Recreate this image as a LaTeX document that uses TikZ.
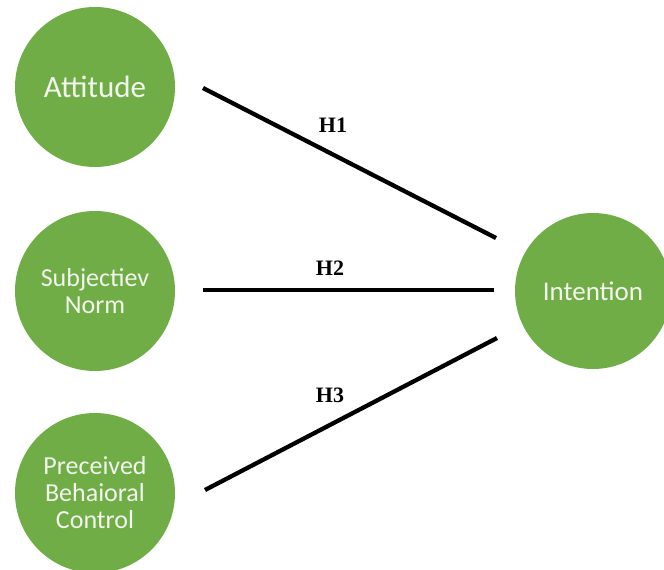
\documentclass[tikz,border=0pt]{standalone}
\usepackage{fontspec}
\setmainfont{Liberation Serif}
\newfontfamily\circfont{Carlito}
\definecolor{ogreen}{HTML}{70AD47}
\definecolor{softwhite}{HTML}{F2F6EE}
\begin{document}
\begin{tikzpicture}[x=1pt,y=-1pt,
  bubble/.style={circle,fill=ogreen,draw=none,inner sep=0pt,minimum size=160pt,
    text=softwhite,align=center,font=\circfont\fontsize{26}{27}\selectfont},
  link/.style={line width=4.3pt},
  hlabel/.style={font=\bfseries\fontsize{22}{24}\selectfont,text=black,inner sep=0pt}]
\useasboundingbox (0,0) rectangle (664,570);
\node[bubble,font=\circfont\fontsize{31}{32}\selectfont] (att) at (95,87) {Attitude};
\node[bubble] (sn) at (95,291) {Subjectiev\\Norm};
\node[bubble] (pbc) at (95,493) {Preceived\\Behaioral\\Control};
\node[bubble,minimum size=156pt,font=\circfont\fontsize{27}{28}\selectfont] (int) at (593,291) {Intention};
\coordinate (a1) at (203,88);
\coordinate (b1) at (496,238);
\coordinate (a2) at (203,290);
\coordinate (b2) at (494,290);
\coordinate (a3) at (205,490);
\coordinate (b3) at (497,338);
\draw[link] (a1) -- (b1);
\draw[link] (a2) -- (b2);
\draw[link] (a3) -- (b3);
\node[hlabel] (h1) at (333,125) {H1};
\node[hlabel] (h2) at (330,268) {H2};
\node[hlabel] (h3) at (330,395) {H3};
\end{tikzpicture}
\end{document}
